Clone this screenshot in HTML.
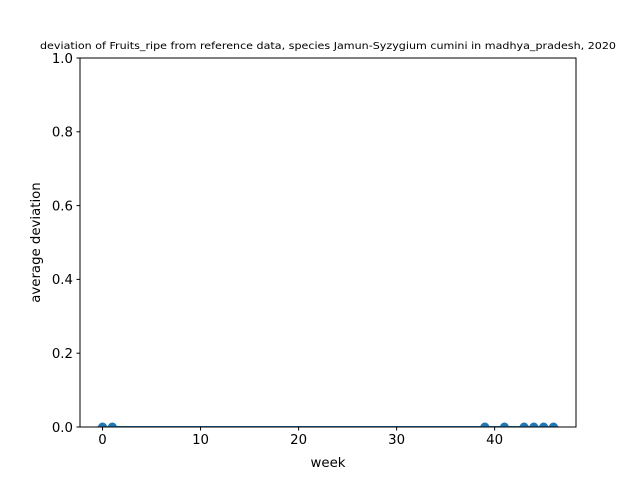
<!DOCTYPE html>
<html><head><meta charset="utf-8"><style>
body{margin:0;background:#fff;font-family:"DejaVu Sans","Liberation Sans",sans-serif;}
</style></head><body>
<svg id="chart" width="640" height="480" xmlns="http://www.w3.org/2000/svg" font-family="DejaVu Sans, Liberation Sans, sans-serif">
<defs><clipPath id="clip"><rect x="80" y="58" width="496" height="369"/></clipPath></defs>
<rect width="640" height="480" fill="#fff"/>
<text x="328" y="49" font-size="9.3" text-anchor="middle" textLength="576" lengthAdjust="spacingAndGlyphs">deviation of Fruits_ripe from reference data, species Jamun-Syzygium cumini in madhya_pradesh, 2020</text>
<g id="axes"></g>
<g id="plot" clip-path="url(#clip)"></g>
<rect x="80" y="58" width="496" height="369" fill="none" stroke="#000" stroke-width="1"/>
<text x="328" y="467" font-size="13.3" text-anchor="middle">week</text>
<text transform="translate(40,242.5) rotate(-90)" font-size="13.3" text-anchor="middle">average deviation</text>
</svg>
<script>
const weeks = [];
for (let w = 0; w <= 46; w++) weeks.push(w);
const deviation = weeks.map(() => 0);
const markerWeeks = [0, 1, 39, 41, 43, 44, 45, 46];
const markerValues = [0, 0, 0, 0, 0, 0, 0, 0];
const xTicks = [0, 10, 20, 30, 40];
const yTicks = [0.0, 0.2, 0.4, 0.6, 0.8, 1.0];

const xMin = -2.3, xMax = 48.3, yMin = 0, yMax = 1;
const L = 80, R = 576, T = 58, B = 427;
const sx = v => L + (v - xMin) / (xMax - xMin) * (R - L);
const sy = v => B - (v - yMin) / (yMax - yMin) * (B - T);
const NS = 'http://www.w3.org/2000/svg';
const ga = document.getElementById('axes');
const g = document.getElementById('plot');
function mk(parent, tag, attrs) { const e = document.createElementNS(NS, tag); for (const k in attrs) e.setAttribute(k, attrs[k]); parent.appendChild(e); return e; }

xTicks.forEach(t => {
  const l = mk(ga, 'line', {x1: sx(t), x2: sx(t), y1: B, y2: B + 3.5, stroke: '#000'});
  
  
  const tx = mk(ga, 'text', {x: sx(t), y: B + 17, 'font-size': 13.3, 'text-anchor': 'middle'});
  tx.textContent = t;
  
  
});
yTicks.forEach(t => {
  const l = mk(ga, 'line', {x1: L - 3.5, x2: L, y1: sy(t), y2: sy(t), stroke: '#000'});
  
  
  const tx = mk(ga, 'text', {x: L - 7, y: sy(t) + 4.8, 'font-size': 13.3, 'text-anchor': 'end'});
  tx.textContent = t.toFixed(1);
  
  
});
const ref = mk(g, 'line', {x1: sx(-0.5), x2: sx(46.5), y1: sy(0), y2: sy(0), stroke: '#ff0000', 'stroke-width': 2});


const pts = weeks.map((w, i) => sx(w) + ',' + sy(deviation[i])).join(' ');
const line = mk(g, 'polyline', {points: pts, fill: 'none', stroke: '#1f77b4', 'stroke-width': 2});


markerWeeks.forEach((w, i) => {
  const c = mk(g, 'circle', {cx: sx(w), cy: sy(markerValues[i]), r: 4.5, fill: '#1f77b4'});
  
  
});
</script>
</body></html>
